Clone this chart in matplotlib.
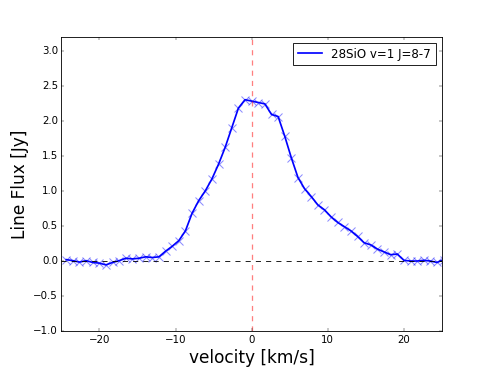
import matplotlib
matplotlib.use('Agg')
import matplotlib.pyplot as plt

# channel velocities [km/s] and line flux [Jy]
velocity = [-24.36, -23.49, -22.62, -21.75, -20.88, -20.01, -19.14, -18.27,
            -17.40, -16.53, -15.66, -14.79, -13.92, -13.05, -12.18, -11.31,
            -10.44, -9.57, -8.70, -7.83, -6.96, -6.09, -5.22, -4.35,
            -3.48, -2.61, -1.74, -0.87, 0.00, 0.87, 1.74, 2.61,
            3.48, 4.35, 5.22, 6.09, 6.96, 7.83, 8.70, 9.57,
            10.44, 11.31, 12.18, 13.05, 13.92, 14.79, 15.66, 16.53,
            17.40, 18.27, 19.14, 20.01, 20.88, 21.75, 22.62, 23.49,
            24.36, 25.23]
flux = [0.02, 0.005, -0.015, 0.005, -0.02, -0.03, -0.055, -0.02,
        0.005, 0.04, 0.03, 0.04, 0.06, 0.05, 0.06, 0.14,
        0.21, 0.29, 0.43, 0.68, 0.86, 1.00, 1.17, 1.38,
        1.62, 1.90, 2.18, 2.30, 2.28, 2.26, 2.24, 2.09,
        2.06, 1.78, 1.47, 1.19, 1.03, 0.92, 0.80, 0.73,
        0.63, 0.55, 0.49, 0.43, 0.35, 0.26, 0.23, 0.17,
        0.13, 0.09, 0.10, 0.01, 0.0, 0.0, 0.01, 0.0,
        -0.02, 0.02]
label = '28SiO v=1 J=8-7'

plt.style.use('classic')
fig = plt.figure(figsize=(8, 6), dpi=61.375, facecolor='white')
ax = fig.add_subplot(111)

ax.plot(velocity, flux, 'x', color='blue', alpha=0.45, markersize=10, mew=1.2)
ax.plot(velocity, flux, '-', color='blue', lw=2, label=label)
ax.axhline(0, color='k', ls='--', lw=1)
ax.axvline(0, color='red', ls='--', lw=1.5, alpha=0.5)

ax.set_xlim(-25, 25)
ax.set_ylim(-1.0, 3.2)
ax.set_xlabel('velocity [km/s]', fontsize=20)
ax.set_ylabel('Line Flux [Jy]', fontsize=20)
ax.legend(loc='upper right', fontsize=14, numpoints=1)

fig.savefig('out.png', dpi=61.375, facecolor='white')
